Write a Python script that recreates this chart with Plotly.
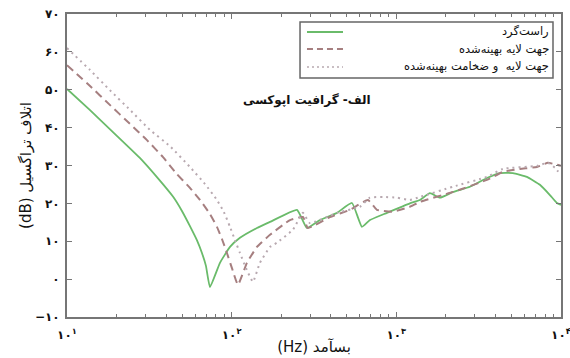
import plotly.graph_objects as go

# ---------------- data ----------------
freq_green = [10, 13.8, 18.2, 22.5, 27.7, 35.7, 44.0, 49.9, 55.8, 61.5, 66.0, 69.8, 73.8,
              84.9, 97.7, 112.3, 142.4, 170.9, 249.2, 286.6, 343.8, 435.9, 537.6, 618.2,
              691.5, 876.8, 1209, 1391, 1600, 1840, 2206, 2798, 3549, 4256, 5105, 6209,
              7447, 8562, 9443, 10000]
loss_green = [50.2, 44.6, 39.6, 35.8, 32.0, 26.6, 21.8, 18.0, 14.0, 10.3, 6.9, 3.5, -2.1,
              4.3, 8.5, 10.9, 13.5, 15.1, 18.3, 13.5, 15.6, 17.5, 20.1, 13.8,
              15.6, 17.5, 20.0, 20.9, 22.7, 21.5, 23, 24.4, 26.7, 28, 28, 27,
              24.9, 22.2, 20.1, 19.6]

freq_dash = [10, 13.8, 18.2, 24.1, 30.6, 38.3, 45.9, 55.8, 64.2, 73.8, 81.4, 87.3, 93.6,
             100.4, 109.2, 123.8, 142.4, 170.9, 226, 271, 290, 395, 523, 672, 762, 953,
             1209, 1391, 2206, 3549, 4436, 5629, 7140, 8324, 9443, 10000]
loss_dash = [56.5, 51.0, 46.0, 41.0, 36.7, 32.2, 28.0, 24.1, 20.9, 17.2, 13.8, 10.6, 6.9,
             2.9, -1.5, 4.3, 8.5, 11.7, 15.6, 16.4, 13.5, 16.4, 18.3, 20.9, 18.3, 17.8,
             19.1, 20.4, 23, 26.2, 28.3, 29.1, 29.6, 30.7, 30.2, 29.9]

freq_dot = [10, 13.8, 18.2, 24.1, 31.9, 42.2, 55.8, 68.9, 81.4, 89.7, 97.7, 104.7, 112.3,
            122.2, 134.6, 148.5, 170.9, 188, 235, 271, 298, 436, 601, 691, 829, 1008,
            1209, 1391, 2206, 3549, 4436, 7140, 8324, 9183, 10000]
loss_dot = [61.0, 55.2, 49.9, 44.7, 39.4, 35.1, 29.6, 25.1, 20.9, 17.7, 13.8, 10.3, 6.9,
            2.9, -0.7, 4.3, 8.5, 9.6, 13, 17.5, 14.8, 17.5, 19.1, 21.5, 21.7, 21.5,
            20.9, 21.7, 24.4, 27, 29.1, 29.9, 30.7, 29.4, 27.5]

series_names = ["راست‌گرد", "جهت لایه بهینه‌شده", "جهت لایه  و ضخامت بهینه‌شده"]

y_tickvals = [-10, 0, 10, 20, 30, 40, 50, 60, 70]
y_ticktext = ["\u2212۱۰", "۰", "۱۰", "۲۰", "۳۰", "۴۰", "۵۰", "۶۰", "۷۰"]
x_tickvals = [10, 100, 1000, 10000]
x_ticktext = ["۱۰<sup>۱</sup>", "۱۰<sup>۲</sup>", "۱۰<sup>۳</sup>", "۱۰<sup>۴</sup>"]
x_minor = [m * d for d in (10, 100, 1000) for m in range(2, 10)]

# written in visual (left-to-right) order so the Latin unit sits on the left, as in the reference
x_title = "(Hz) بسآمد"
y_title = "(dB) اتلاف تراگسیل"
panel_label = "الف- گرافیت اپوکسی"

# ---------------- styles ----------------
FONT = "DejaVu Sans"
c_green = "#6abb6a"
c_dash = "#a67f80"
c_dot = "#b8a9b0"
axis_c = "#767676"

fig = go.Figure()
fig.add_trace(go.Scatter(x=freq_green, y=loss_green, mode="lines", name=series_names[0],
                         line=dict(color=c_green, width=1.8, shape="spline", smoothing=0.4)))
fig.add_trace(go.Scatter(x=freq_dash, y=loss_dash, mode="lines", name=series_names[1],
                         line=dict(color=c_dash, width=2, dash="8px,5px", shape="spline", smoothing=0.4)))
fig.add_trace(go.Scatter(x=freq_dot, y=loss_dot, mode="lines", name=series_names[2],
                         line=dict(color=c_dot, width=2, dash="2px,4px", shape="spline", smoothing=0.4)))

# ---------------- manual legend ----------------
x0p, x1p = 0.4717, 0.9838
y0p, y1p = 0.7888, 0.9736
fig.add_shape(type="rect", xref="paper", yref="paper", x0=x0p, x1=x1p, y0=y0p, y1=y1p,
              line=dict(color="#666666", width=1.5), fillcolor="white")
sample_y = [0.9406, 0.8845, 0.8251]
sample_styles = [(c_green, "solid", 1.8), (c_dash, "6px,4px", 2), (c_dot, "2px,3px", 1.6)]
for name, yy, (col, dsh, w) in zip(series_names, sample_y, sample_styles):
    fig.add_shape(type="line", xref="paper", yref="paper", x0=0.4858, x1=0.5587, y0=yy, y1=yy,
                  line=dict(color=col, dash=dsh, width=w))
    fig.add_annotation(xref="paper", yref="paper", x=0.9798, y=yy, text=name, showarrow=False,
                       xanchor="right", yanchor="middle", font=dict(family=FONT, size=11.5, color="#111"))

fig.add_annotation(xref="paper", yref="paper", x=0.486, y=0.716, text="<b>" + panel_label + "</b>",
                   showarrow=False, xanchor="center", yanchor="middle",
                   font=dict(family=FONT, size=12, color="#111"))

fig.update_layout(
    width=570, height=358,
    margin=dict(l=67, r=9, t=14, b=41),
    paper_bgcolor="white", plot_bgcolor="white",
    showlegend=False,
    font=dict(family=FONT, color="#111"),
)
fig.update_xaxes(
    type="log", range=[1, 4], automargin=False,
    tickmode="array", tickvals=x_tickvals, ticktext=["<b>" + t + "</b>" for t in x_ticktext],
    ticks="inside", ticklen=5, tickwidth=1.2, tickcolor=axis_c,
    minor=dict(tickvals=x_minor, ticks="inside", ticklen=3, tickwidth=1, tickcolor=axis_c, showgrid=False),
    showline=True, linecolor=axis_c, linewidth=2, mirror="allticks",
    showgrid=False, zeroline=False,
    tickfont=dict(family=FONT, size=12, color="#111"),
    ticklabelstandoff=6, ticklabeloverflow="allow",
    title=dict(text=x_title, font=dict(family=FONT, size=15, color="#111"), standoff=0),
)
fig.update_yaxes(
    range=[-10, 70], automargin=False,
    tickmode="array", tickvals=y_tickvals, ticktext=["<b>" + t + "</b>" for t in y_ticktext],
    ticks="inside", ticklen=5, tickwidth=1.2, tickcolor=axis_c,
    showline=True, linecolor=axis_c, linewidth=2, mirror="allticks",
    showgrid=False, zeroline=False,
    tickfont=dict(family=FONT, size=12, color="#111"),
    ticklabelstandoff=3,
    title=dict(text=y_title, font=dict(family=FONT, size=15, color="#111"), standoff=0),
)

fig.write_html("out.html")
